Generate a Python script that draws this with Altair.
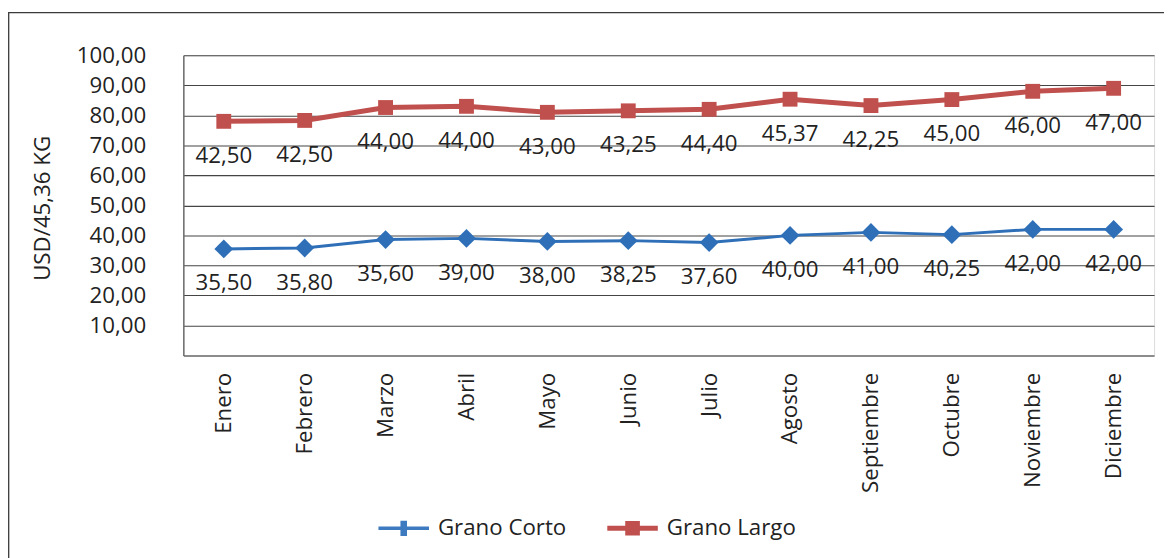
import altair as alt
import pandas as pd

months = ["Enero", "Febrero", "Marzo", "Abril", "Mayo", "Junio", "Julio",
          "Agosto", "Septiembre", "Octubre", "Noviembre", "Diciembre"]
corto = [35.5, 35.8, 38.6, 39.0, 38.0, 38.25, 37.6, 40.0, 41.0, 40.25, 42.0, 42.0]
corto_labels = ["35,50", "35,80", "35,60", "39,00", "38,00", "38,25", "37,60",
                "40,00", "41,00", "40,25", "42,00", "42,00"]
largo = [42.5, 42.5, 44.0, 44.0, 43.0, 43.25, 44.4, 45.37, 42.25, 45.0, 46.0, 47.0]
largo_labels = ["42,50", "42,50", "44,00", "44,00", "43,00", "43,25", "44,40",
                "45,37", "42,25", "45,00", "46,00", "47,00"]
series = ["Grano Corto", "Grano Largo"]
y_ticks = [10, 20, 30, 40, 50, 60, 70, 80, 90, 100]

BLUE = "#2E6FB8"
BLUE_LEG = "#3D7ABF"
RED = "#C0504D"
TXT = "#222222"
FONT = "Open Sans"

df = pd.DataFrame({
    "mes": months,
    "corto": corto,
    "largo_top": [c + l for c, l in zip(corto, largo)],
    "corto_lbl": corto_labels,
    "largo_lbl": largo_labels,
})

x_enc = alt.X("mes:N", sort=months, title=None,
              scale=alt.Scale(type="point", padding=0.5),
              axis=alt.Axis(labelAngle=270, labelFontSize=22.5, labelFont=FONT,
                            labelColor=TXT, labelPadding=17, ticks=False, tickSize=0,
                            domainColor="#6b6b6b", domainWidth=1.5, grid=False))

def y_enc(field):
    return alt.Y(field, title="USD/45,36 KG",
                 scale=alt.Scale(domain=[0, 100], nice=False, zero=True),
                 axis=alt.Axis(values=y_ticks, ticks=False, tickSize=0,
                               labelExpr="replace(format(datum.value, '.2f'), '.', ',')",
                               labelFontSize=22.5, labelFont=FONT, labelColor=TXT,
                               labelPadding=38, grid=True, gridColor="#454545",
                               gridWidth=1.1, domainColor="#6b6b6b", domainWidth=1.5,
                               titleFontSize=22.5, titleFont=FONT, titleColor=TXT,
                               titleFontWeight="normal", titleAngle=270,
                               titleX=-142, titleY=154, titleAlign="center",
                               titleBaseline="middle"))

base = alt.Chart(df)

blue_line = base.mark_line(color=BLUE, strokeWidth=3).encode(x=x_enc, y=y_enc("corto:Q"))
blue_pts = base.mark_point(shape="diamond", filled=True, color=BLUE, size=360,
                           opacity=1).encode(x=x_enc, y=y_enc("corto:Q"))
blue_txt = base.mark_text(dy=35, fontSize=22.5, font=FONT, color=TXT).encode(
    x=x_enc, y=y_enc("corto:Q"), text="corto_lbl:N")

red_line = base.mark_line(color=RED, strokeWidth=5).encode(x=x_enc, y=y_enc("largo_top:Q"))
red_pts = base.mark_point(shape="square", filled=True, color=RED, size=225,
                          opacity=1).encode(x=x_enc, y=y_enc("largo_top:Q"))
red_txt = base.mark_text(dy=35, fontSize=22.5, font=FONT, color=TXT).encode(
    x=x_enc, y=y_enc("largo_top:Q"), text="largo_lbl:N")

path_corto = "M-1,-0.07H1V0.07H-1Z M-0.13,-0.3H0.13V0.3H-0.13Z"
path_largo = "M-1,-0.1H1V0.1H-1Z M-0.29,-0.29H0.29V0.29H-0.29Z"

leg = dict(title=None, orient="none", legendX=197, legendY=452, direction="horizontal",
           symbolSize=2601, symbolStrokeWidth=0, labelFontSize=22.5, labelFont=FONT,
           labelColor=TXT, labelOffset=9, columnPadding=41)

legend_layer = alt.Chart(pd.DataFrame({"serie": series})).transform_filter("false").mark_point(
    filled=True, opacity=1, size=2601).encode(
    color=alt.Color("serie:N", scale=alt.Scale(domain=series, range=[BLUE_LEG, RED]),
                    legend=alt.Legend(**leg)),
    shape=alt.Shape("serie:N", scale=alt.Scale(domain=series, range=[path_corto, path_largo]),
                    legend=alt.Legend(**leg)),
)

frame = alt.Chart(alt.Data(values=[{}])).mark_rect(
    filled=False, stroke="#3a3a3a", strokeWidth=1.3).encode(
    x=alt.value(-176.3), x2=alt.value(1400), y=alt.value(-43), y2=alt.value(800))

chart = alt.layer(frame, blue_line, red_line, blue_pts, red_pts, blue_txt, red_txt,
                  legend_layer).properties(
    width=980, height=303,
    autosize=alt.AutoSizeParams(type="none"),
    padding={"left": 177, "top": 45, "right": 10, "bottom": 230},
).configure_view(stroke=None).configure(background="white")

chart.save("out.html", embed_options={"renderer": "svg", "actions": False})
